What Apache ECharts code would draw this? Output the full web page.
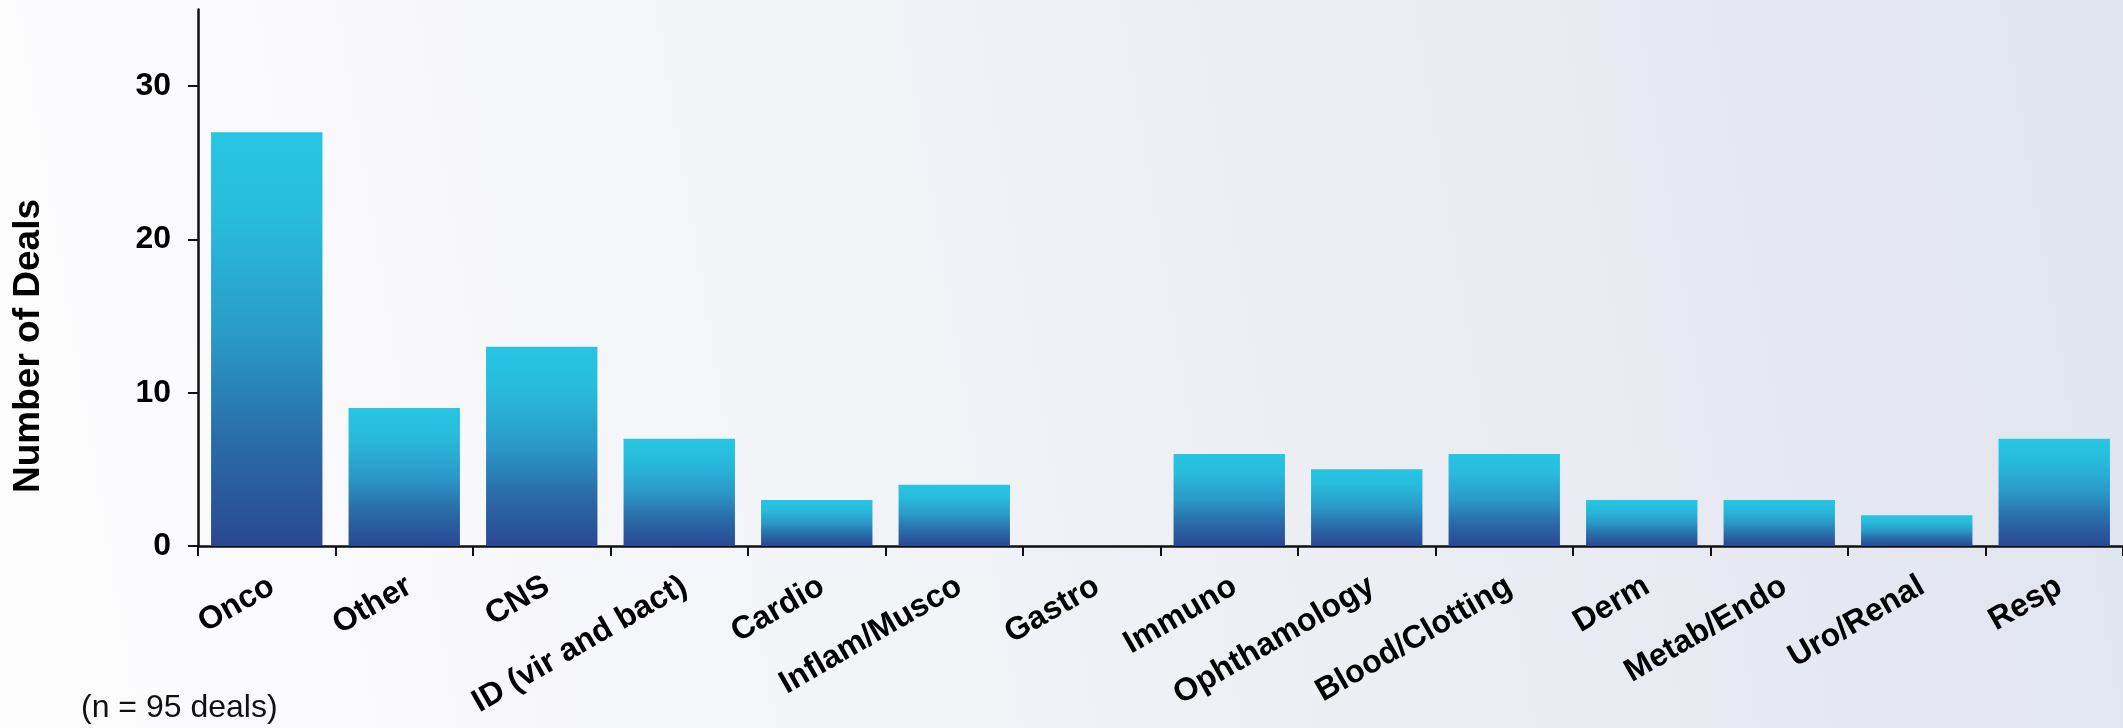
<!DOCTYPE html>
<html>
<head>
<meta charset="utf-8">
<title>Number of Deals by Therapeutic Area</title>
<script src="https://cdn.jsdelivr.net/npm/echarts@6/dist/echarts.min.js"></script>
<style>
  html, body { margin: 0; padding: 0; }
  #chart { width: 2123px; height: 728px; }
</style>
</head>
<body>
<div id="chart"></div>
<script>
// Therapeutic areas and deal counts
const categories = ['Onco', 'Other', 'CNS', 'ID (vir and bact)', 'Cardio', 'Inflam/Musco', 'Gastro',
  'Immuno', 'Ophthamology', 'Blood/Clotting', 'Derm', 'Metab/Endo', 'Uro/Renal', 'Resp'];
const deals = [27, 9, 13, 7, 3, 4, 0, 6, 5, 6, 3, 3, 2, 7];
const yTicks = [0, 10, 20, 30];
const totalNote = '(n = 95 deals)';
const yTitle = 'Number of Deals';

const FONT = '"Liberation Sans", Arial, Helvetica, sans-serif';

const chart = echarts.init(document.getElementById('chart'), null, { renderer: 'canvas' });

const barFill = new echarts.graphic.LinearGradient(0, 0, 0, 1, [
  { offset: 0, color: '#27c5e3' },
  { offset: 0.2, color: '#28bcdd' },
  { offset: 0.5, color: '#2a99c7' },
  { offset: 0.75, color: '#2a6ba8' },
  { offset: 1, color: '#294891' }
]);

chart.setOption({
  animation: false,
  backgroundColor: {
    type: 'linear', global: true,
    x: 0, y: 540, x2: 2123, y2: 186,
    colorStops: [
      { offset: 0, color: '#fdfdfe' },
      { offset: 0.5, color: '#f0f1f6' },
      { offset: 1, color: '#e0e4ee' }
    ]
  },
  grid: { left: 198, right: -6, top: 9.5, bottom: 182, containLabel: false },
  xAxis: {
    type: 'category',
    data: categories,
    axisLine: { lineStyle: { color: '#111', width: 2.5 } },
    axisTick: { show: true, alignWithLabel: false, length: 10, inside: false,
      lineStyle: { color: '#111', width: 2 } },
    axisLabel: {
      interval: 0, rotate: 30, margin: 41, padding: [0, -6, 0, 0],
      fontFamily: FONT, fontWeight: 'bold', fontSize: 32, color: '#000'
    },
    splitLine: { show: false }
  },
  yAxis: {
    type: 'value',
    min: 0, max: 35, interval: 10,
    axisLine: { show: true, lineStyle: { color: '#111', width: 2.5 } },
    axisTick: { show: true, length: 10, customValues: yTicks, lineStyle: { color: '#111', width: 2 } },
    axisLabel: {
      customValues: yTicks, margin: 27,
      fontFamily: FONT, fontWeight: 'bold', fontSize: 32, color: '#000'
    },
    splitLine: { show: false }
  },
  series: [{
    type: 'bar',
    data: deals,
    barCategoryGap: '19%',
    itemStyle: { color: barFill },
    z: 1
  }],
  graphic: [{
    // vertical axis title
    type: 'text',
    x: 29, y: 346,
    rotation: Math.PI / 2,
    style: {
      text: yTitle, fontFamily: FONT, fontWeight: 'bold', fontSize: 37, fill: '#000',
      align: 'center', verticalAlign: 'middle'
    }
  }, {
    type: 'text',
    left: 81,
    top: 692,
    style: { text: totalNote, fontFamily: FONT, fontSize: 32, fill: '#111' }
  }]
});
</script>
</body>
</html>
